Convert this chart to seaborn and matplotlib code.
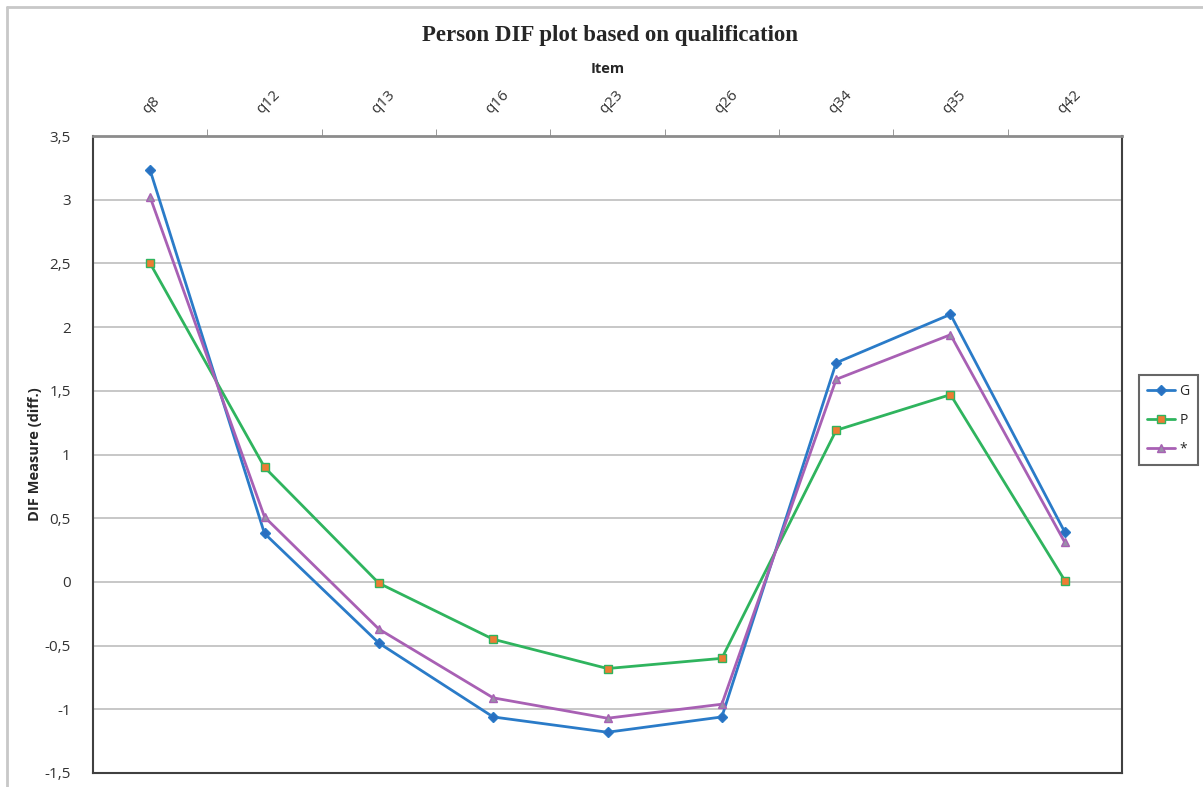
import pandas as pd
import matplotlib
matplotlib.use("Agg")
import matplotlib.pyplot as plt
import seaborn as sns
from matplotlib.lines import Line2D
from matplotlib.ticker import FixedLocator, FuncFormatter

# chart data
items = ["q8", "q12", "q13", "q16", "q23", "q26", "q34", "q35", "q42"]
g_vals = [3.23, 0.38, -0.48, -1.06, -1.18, -1.06, 1.72, 2.10, 0.39]
p_vals = [2.50, 0.90, -0.01, -0.45, -0.68, -0.60, 1.19, 1.47, 0.01]
star_vals = [3.02, 0.51, -0.37, -0.91, -1.07, -0.96, 1.59, 1.94, 0.31]
series = ["G", "P", "*"]
y_ticks = [-1.5, -1, -0.5, 0, 0.5, 1, 1.5, 2, 2.5, 3, 3.5]

df = pd.DataFrame({
    "Item": items * 3,
    "value": g_vals + p_vals + star_vals,
    "group": [s for s in series for _ in items],
})

line_colors = {"G": "#2A7BC8", "P": "#2FB45E", "*": "#A860B4"}
face_colors = {"G": "#2A6FC0", "P": "#EE7C33", "*": "#9A8FA8"}
markers = {"G": "D", "P": "s", "*": "^"}
msize = {"G": 5, "P": 6, "*": 6}

sns.set_style("white")
plt.rcParams["font.family"] = ["Open Sans", "DejaVu Sans"]

fig = plt.figure(figsize=(12.03, 7.87), dpi=100)
ax = fig.add_axes([93 / 1203, 1 - 773 / 787, (1122 - 93) / 1203, (773 - 136) / 787])

sns.lineplot(data=df, x="Item", y="value", hue="group", style="group",
             palette=line_colors, markers=markers, dashes=False,
             linewidth=2, ax=ax, legend=False, sort=False)

for line, s in zip(ax.get_lines(), series):
    line.set_markerfacecolor(face_colors[s])
    line.set_markeredgecolor(line_colors[s])
    line.set_markersize(msize[s])
    line.set_markeredgewidth(1)

ax.set_xlim(-0.5, len(items) - 0.5)
ax.set_ylim(-1.5, 3.5)

# horizontal gridlines
ax.set_yticks(y_ticks)
ax.yaxis.set_major_formatter(FuncFormatter(lambda v, p: f"{v:g}".replace(".", ",")))
ax.grid(axis="y", color="#BDBDBD", linewidth=1.2)
ax.set_axisbelow(True)

# categories on top, ticks between categories
ax.xaxis.tick_top()
ax.xaxis.set_label_position("top")
ax.set_xticks(range(len(items)))
ax.set_xticklabels(items, rotation=45, ha="left", rotation_mode="anchor")
ax.xaxis.set_minor_locator(FixedLocator([i + 0.5 for i in range(len(items) - 1)]))
ax.tick_params(axis="x", which="major", length=0, pad=14, labelsize=11, colors="#333333")
ax.tick_params(axis="x", which="minor", top=True, length=5, color="#888888")
ax.tick_params(axis="y", length=6, color="#BDBDBD", labelsize=11, pad=10, labelcolor="#333333")

ax.set_xlabel("Item", fontsize=10.5, fontweight="bold", labelpad=10)
ax.set_ylabel("DIF Measure (diff.)", fontsize=10.5, fontweight="bold", labelpad=2)

for side in ["left", "right", "bottom"]:
    ax.spines[side].set_color("#404040")
    ax.spines[side].set_linewidth(1.5)
ax.spines["top"].set_color("#8C8C8C")
ax.spines["top"].set_linewidth(2)

fig.text(610 / 1203, 1 - 35 / 787, "Person DIF plot based on qualification",
         ha="center", va="center", fontsize=16.5, fontweight="bold",
         family=["Liberation Serif", "DejaVu Serif"])

# legend at right
handles = [Line2D([0], [0], color=line_colors[s], marker=markers[s], lw=2,
                  markersize=msize[s], markerfacecolor=face_colors[s],
                  markeredgecolor=line_colors[s]) for s in series]
leg = fig.legend(handles, series, loc="center left",
                 bbox_to_anchor=(1139 / 1203, 1 - 420 / 787),
                 frameon=True, fancybox=False, edgecolor="#404040",
                 fontsize=10, handlelength=2.0, handletextpad=0.3,
                 borderpad=0.6, labelspacing=1.0, borderaxespad=0)
leg.get_frame().set_linewidth(1.5)

# outer chart border
fig.add_artist(Line2D([7 / 1203, 1], [1 - 7 / 787, 1 - 7 / 787], color="#C8C8C8", lw=2,
                      transform=fig.transFigure))
fig.add_artist(Line2D([7 / 1203, 7 / 1203], [0, 1 - 7 / 787], color="#C8C8C8", lw=2,
                      transform=fig.transFigure))

fig.savefig("out.png", dpi=100)
